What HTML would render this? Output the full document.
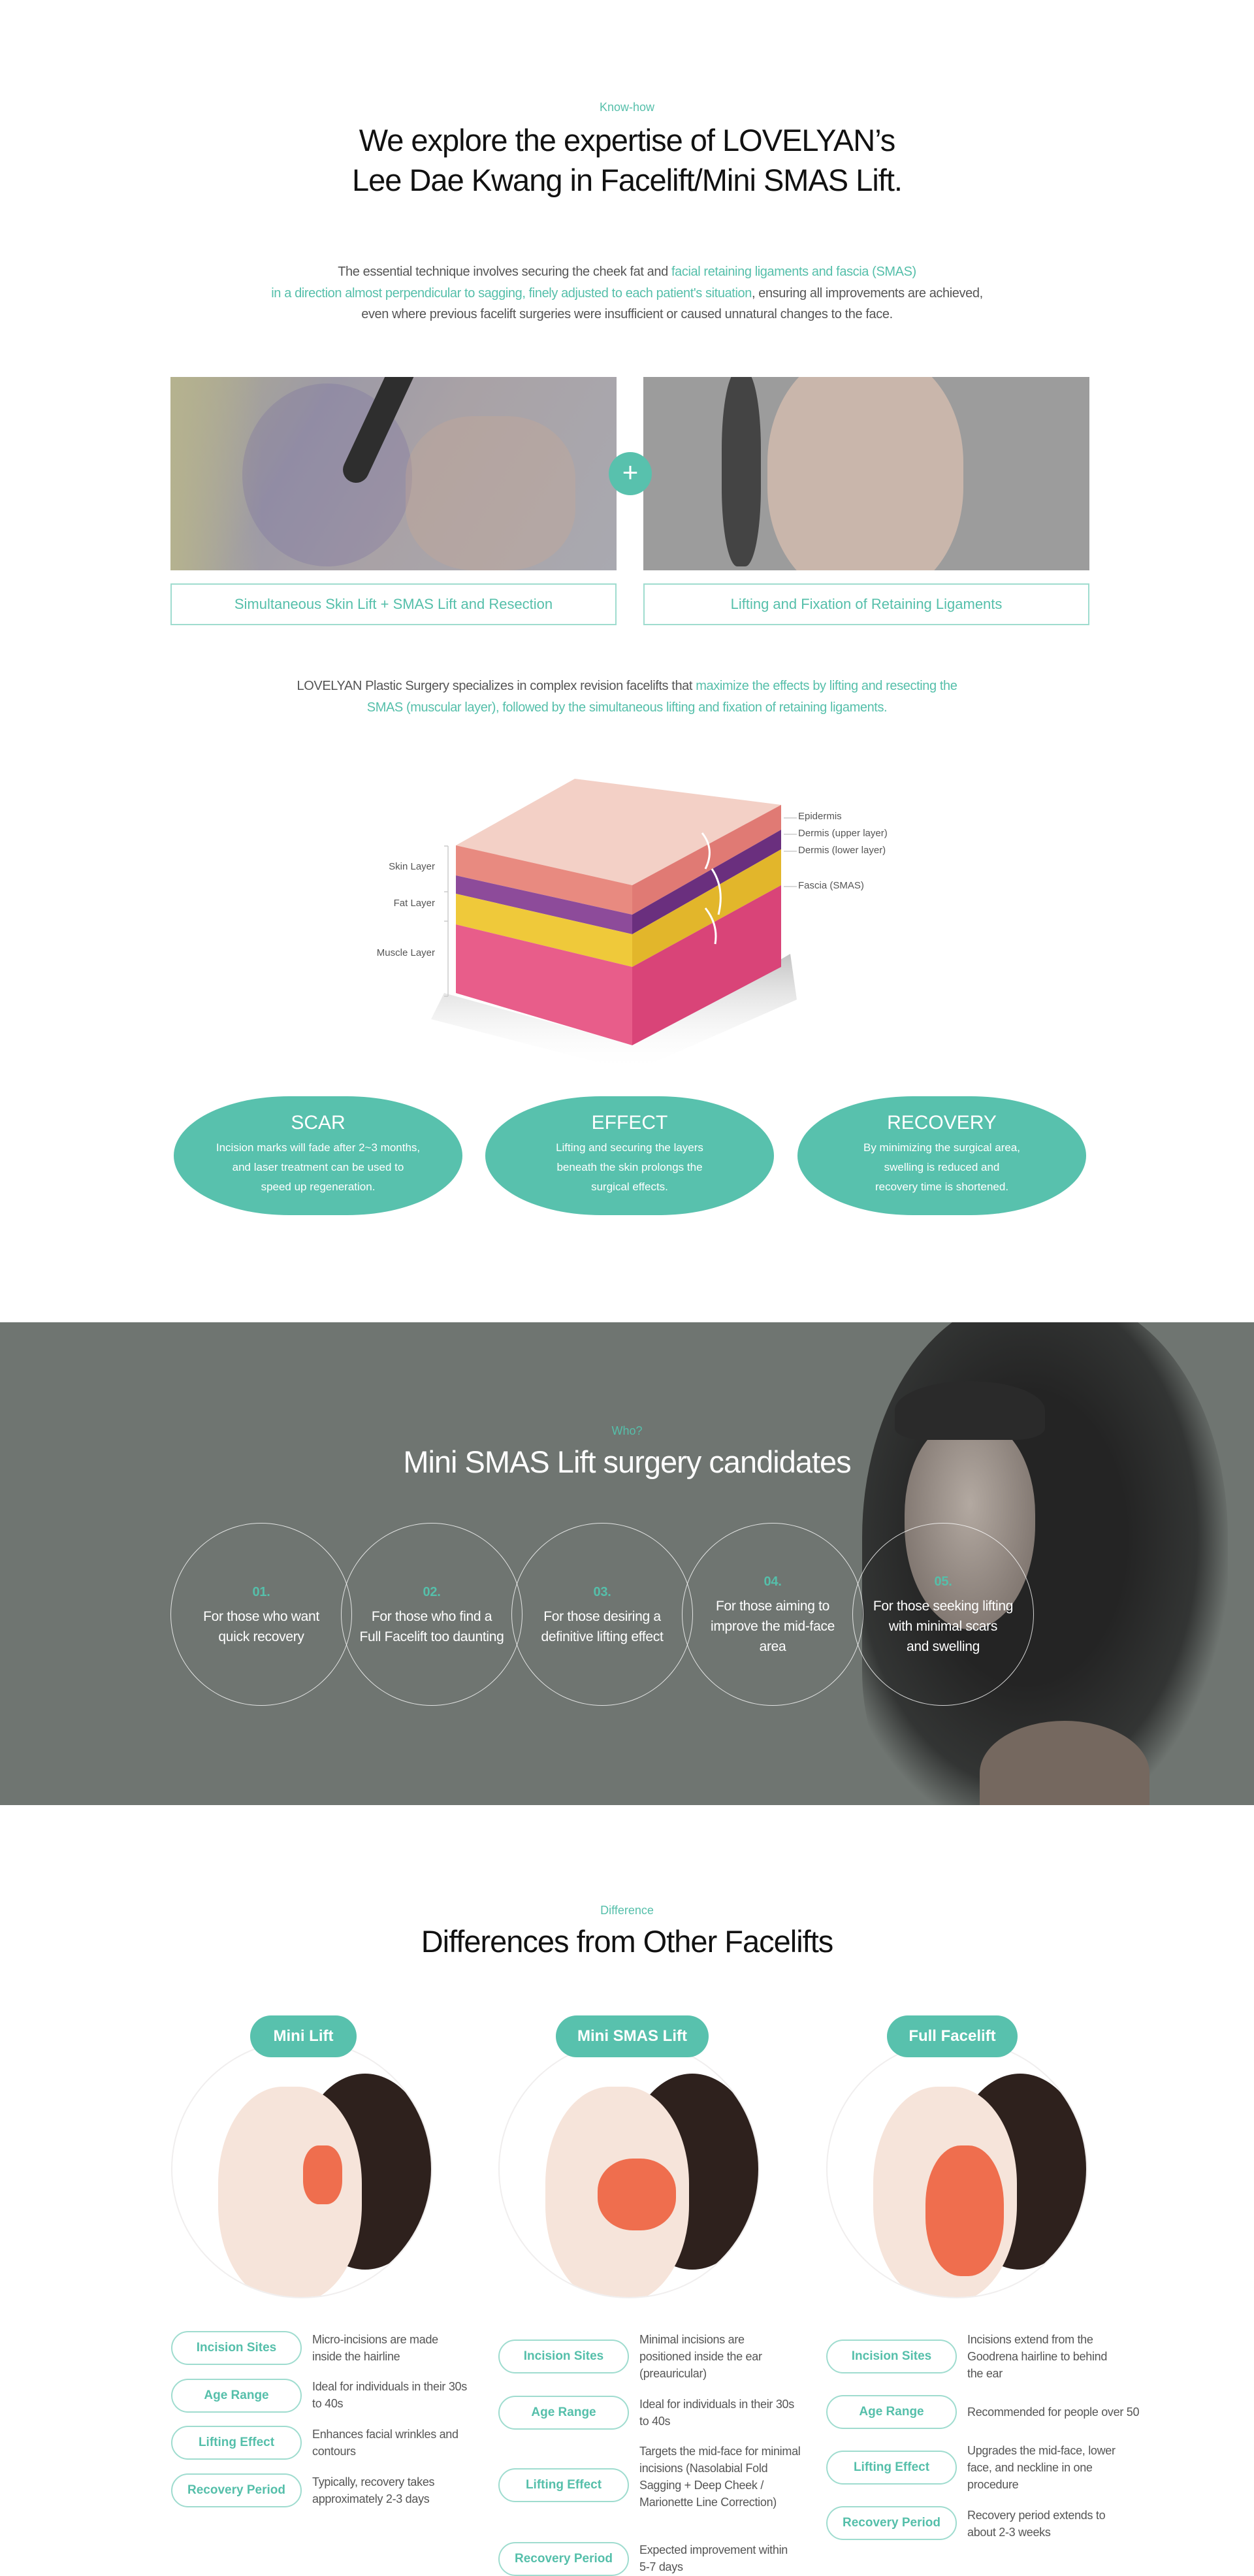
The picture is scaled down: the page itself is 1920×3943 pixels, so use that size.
<!DOCTYPE html>
<html><head><meta charset="utf-8"><style>
*{margin:0;padding:0;box-sizing:border-box}
body{width:1920px;height:3936px;position:relative;background:#fff;font-family:"Liberation Sans",sans-serif;overflow:hidden}
.a{position:absolute}
.c{text-align:center}
.teal{color:#55bfaa}
.sub{font-size:18px;color:#55bfaa;width:1920px;left:0;text-align:center}
.h{font-size:47px;color:#111;width:1920px;left:0;text-align:center;letter-spacing:-1px}
.cap{border:2px solid #9fdccf;color:#55bfaa;font-size:22px;display:flex;align-items:center;justify-content:center}
.pill{background:#58c1ad;border-radius:40%/50%;color:#fff;text-align:center}
.pill b{display:block;font-size:30px;font-weight:normal;margin-top:24px;margin-bottom:6px}
.pill p{font-size:17px;line-height:30px}
.circ{border:1.5px solid rgba(255,255,255,.8);border-radius:50%;width:278px;height:280px;color:#fff;text-align:center;display:flex;flex-direction:column;justify-content:center;font-size:21px;line-height:31px;letter-spacing:-.3px}
.circ i{font-style:normal;color:#55bfaa;font-size:20px;font-weight:bold;margin-bottom:6px}
.lab{border:2px solid #9fdccf;border-radius:26px;width:200px;height:52px;color:#55bfaa;font-size:19px;font-weight:bold;display:flex;align-items:center;justify-content:center}
.txt{font-size:18px;line-height:26px;color:#555;width:240px;letter-spacing:-.3px}
.tag{background:#58c1ad;color:#fff;font-size:24px;font-weight:bold;border-radius:32px;height:64px;display:flex;align-items:center;justify-content:center}
.fc{width:400px;height:396px;border-radius:50%;border:2px solid #f0eeee;overflow:hidden;background:#fff}
</style></head><body>

<div class="a sub" style="top:154px">Know-how</div>
<div class="a h" style="top:184px;line-height:61px">We explore the expertise of LOVELYAN’s<br>Lee Dae Kwang in Facelift/Mini SMAS Lift.</div>
<div class="a c" style="top:400px;left:0;width:1920px;font-size:20px;line-height:32.5px;color:#555;letter-spacing:-.4px">The essential technique involves securing the cheek fat and <span class="teal">facial retaining ligaments and fascia (SMAS)</span><br><span class="teal">in a direction almost perpendicular to sagging, finely adjusted to each patient's situation</span>, ensuring all improvements are achieved,<br>even where previous facelift surgeries were insufficient or caused unnatural changes to the face.</div>

<div class="a" style="left:261px;top:577px;width:683px;height:296px;background:linear-gradient(120deg,#aeab90 0%,#9d9aa6 30%,#a9a2a6 55%,#a9a9b0 100%);overflow:hidden">
 <div class="a" style="left:0;top:0;width:140px;height:296px;background:linear-gradient(90deg,#b5b28f,rgba(160,157,138,0))"></div>
 <div class="a" style="left:110px;top:10px;width:260px;height:280px;border-radius:50%;background:rgba(120,110,160,.3)"></div>
 <div class="a" style="left:300px;top:-40px;width:40px;height:210px;background:#2e2e2e;transform:rotate(25deg);border-radius:20px"></div>
 <div class="a" style="left:360px;top:60px;width:260px;height:236px;border-radius:40%;background:rgba(200,170,150,.35)"></div>
</div>
<div class="a" style="left:985px;top:577px;width:683px;height:296px;background:#9c9c9c;overflow:hidden">
 <div class="a" style="left:190px;top:-40px;width:300px;height:380px;border-radius:45%;background:#c9b6ab"></div>
 <div class="a" style="left:120px;top:-10px;width:60px;height:300px;border-radius:40%;background:#444"></div>
</div>
<div class="a" style="left:932px;top:692px;width:66px;height:66px;border-radius:50%;background:#58c1ad;color:#fff;font-size:42px;line-height:62px;text-align:center">+</div>
<div class="a cap" style="left:261px;top:893px;width:683px;height:64px">Simultaneous Skin Lift + SMAS Lift and Resection</div>
<div class="a cap" style="left:985px;top:893px;width:683px;height:64px">Lifting and Fixation of Retaining Ligaments</div>

<div class="a c" style="top:1034px;left:0;width:1920px;font-size:20px;line-height:32.5px;color:#555;letter-spacing:-.4px">LOVELYAN Plastic Surgery specializes in complex revision facelifts that <span class="teal">maximize the effects by lifting and resecting the</span><br><span class="teal">SMAS (muscular layer), followed by the simultaneous lifting and fixation of retaining ligaments.</span></div>

<svg class="a" style="left:620px;top:1180px" width="620" height="470" viewBox="620 1180 620 470">
 <defs><linearGradient id="sh" x1="0" y1="0" x2="0" y2="1"><stop offset="0" stop-color="#888" stop-opacity=".5"/><stop offset="1" stop-color="#fff" stop-opacity="0"/></linearGradient></defs>
 <polygon points="680,1520 970,1600 1210,1460 1220,1530 970,1640 660,1560" fill="url(#sh)"/>
 <polygon points="698,1294 880,1192 1196,1232 968,1355" fill="#f3d0c6"/>
 <polygon points="698,1294 968,1355 968,1400 698,1340" fill="#e88a80"/>
 <polygon points="968,1355 1196,1232 1196,1270 968,1400" fill="#e07a74"/>
 <polygon points="698,1340 968,1400 968,1430 698,1368" fill="#8d4b9a"/>
 <polygon points="968,1400 1196,1270 1196,1300 968,1430" fill="#6a2f7e"/>
 <polygon points="698,1368 968,1430 968,1480 698,1415" fill="#efc93a"/>
 <polygon points="968,1430 1196,1300 1196,1355 968,1480" fill="#e2b62b"/>
 <polygon points="698,1415 968,1480 968,1600 698,1520" fill="#e85d8a"/>
 <polygon points="968,1480 1196,1355 1196,1480 968,1600" fill="#d94478"/>
 <g stroke="#ccc" stroke-width="1.5" fill="none"><path d="M686,1295 V1525 M680,1295 h6 M680,1365 h6 M680,1410 h6 M680,1525 h6"/>
 <path d="M1200,1252 h20 M1200,1277 h20 M1200,1303 h20 M1200,1357 h20"/></g>
 <g stroke="#fff" stroke-width="3" fill="none"><path d="M1080,1330 q15,-30 -5,-55"/><path d="M1100,1400 q10,-40 -10,-70"/><path d="M1095,1445 q5,-30 -15,-55"/></g>
</svg>
<div class="a" style="left:560px;top:1318px;width:106px;text-align:right;font-size:15px;color:#555">Skin Layer</div>
<div class="a" style="left:560px;top:1374px;width:106px;text-align:right;font-size:15px;color:#555">Fat Layer</div>
<div class="a" style="left:540px;top:1450px;width:126px;text-align:right;font-size:15px;color:#555">Muscle Layer</div>
<div class="a" style="left:1222px;top:1241px;font-size:15px;color:#555">Epidermis</div>
<div class="a" style="left:1222px;top:1267px;font-size:15px;color:#555">Dermis (upper layer)</div>
<div class="a" style="left:1222px;top:1293px;font-size:15px;color:#555">Dermis (lower layer)</div>
<div class="a" style="left:1222px;top:1347px;font-size:15px;color:#555">Fascia (SMAS)</div>

<div class="a pill" style="left:266px;top:1678px;width:442px;height:182px"><b>SCAR</b><p>Incision marks will fade after 2~3 months,<br>and laser treatment can be used to<br>speed up regeneration.</p></div>
<div class="a pill" style="left:743px;top:1678px;width:442px;height:182px"><b>EFFECT</b><p>Lifting and securing the layers<br>beneath the skin prolongs the<br>surgical effects.</p></div>
<div class="a pill" style="left:1221px;top:1678px;width:442px;height:182px"><b>RECOVERY</b><p>By minimizing the surgical area,<br>swelling is reduced and<br>recovery time is shortened.</p></div>

<div class="a" style="left:0;top:2024px;width:1920px;height:739px;background:#6f7571;overflow:hidden">
 <div class="a" style="left:1320px;top:-40px;width:560px;height:820px;border-radius:45% 45% 30% 30%;background:radial-gradient(ellipse at 45% 45%,#242424 35%,#333534 60%,rgba(70,72,71,0) 72%)"></div>
 <div class="a" style="left:1385px;top:150px;width:200px;height:320px;border-radius:45% 45% 50% 50%;background:radial-gradient(ellipse at 50% 40%,#b3a9a1,#7a706a 85%)"></div>
 <div class="a" style="left:1370px;top:90px;width:230px;height:90px;border-radius:50% 50% 20% 20%;background:#2a2a2a"></div>
 <div class="a" style="left:1500px;top:610px;width:260px;height:160px;border-radius:50% 50% 0 0;background:#75685f"></div>
</div>
<div class="a" style="top:2180px;left:0;width:1920px;text-align:center;font-size:18px;color:#55bfaa">Who?</div>
<div class="a" style="top:2210px;left:0;width:1920px;text-align:center;font-size:47px;color:#fff;letter-spacing:-1px">Mini SMAS Lift surgery candidates</div>
<div class="a circ" style="left:261px;top:2331px"><i>01.</i>For those who want<br>quick recovery</div>
<div class="a circ" style="left:522px;top:2331px"><i>02.</i>For those who find a<br>Full Facelift too daunting</div>
<div class="a circ" style="left:783px;top:2331px"><i>03.</i>For those desiring a<br>definitive lifting effect</div>
<div class="a circ" style="left:1044px;top:2331px"><i>04.</i>For those aiming to<br>improve the mid-face<br>area</div>
<div class="a circ" style="left:1305px;top:2331px"><i>05.</i>For those seeking lifting<br>with minimal scars<br>and swelling</div>

<div class="a sub" style="top:2914px">Difference</div>
<div class="a h" style="top:2944px">Differences from Other Facelifts</div>

<div class="a fc" style="left:262px;top:3122px">
 <div class="a" style="left:190px;top:50px;width:210px;height:300px;border-radius:50%;background:#2e211d"></div>
 <div class="a" style="left:70px;top:70px;width:220px;height:330px;border-radius:45%;background:#f6e4da"></div>
 <div class="a" style="left:200px;top:160px;width:60px;height:90px;border-radius:40%;background:#ef6e4e"></div>
</div>
<div class="a fc" style="left:763px;top:3122px">
 <div class="a" style="left:190px;top:50px;width:210px;height:300px;border-radius:50%;background:#2e211d"></div>
 <div class="a" style="left:70px;top:70px;width:220px;height:330px;border-radius:45%;background:#f6e4da"></div>
 <div class="a" style="left:150px;top:180px;width:120px;height:110px;border-radius:45%;background:#ef6e4e"></div>
</div>
<div class="a fc" style="left:1265px;top:3122px">
 <div class="a" style="left:190px;top:50px;width:210px;height:300px;border-radius:50%;background:#2e211d"></div>
 <div class="a" style="left:70px;top:70px;width:220px;height:330px;border-radius:45%;background:#f6e4da"></div>
 <div class="a" style="left:150px;top:160px;width:120px;height:200px;border-radius:45%;background:#ef6e4e"></div>
</div>
<div class="a tag" style="left:383px;top:3085px;width:163px">Mini Lift</div>
<div class="a tag" style="left:851px;top:3085px;width:234px">Mini SMAS Lift</div>
<div class="a tag" style="left:1358px;top:3085px;width:200px">Full Facelift</div>

<div class="a lab" style="left:262px;top:3568px">Incision Sites</div>
<div class="a txt" style="left:478px;top:3568px">Micro-incisions are made inside the hairline</div>
<div class="a lab" style="left:262px;top:3641px">Age Range</div>
<div class="a txt" style="left:478px;top:3640px">Ideal for individuals in their 30s to 40s</div>
<div class="a lab" style="left:262px;top:3713px">Lifting Effect</div>
<div class="a txt" style="left:478px;top:3713px">Enhances facial wrinkles and contours</div>
<div class="a lab" style="left:262px;top:3786px">Recovery Period</div>
<div class="a txt" style="left:478px;top:3786px">Typically, recovery takes approximately 2-3 days</div>

<div class="a lab" style="left:763px;top:3581px">Incision Sites</div>
<div class="a txt" style="left:979px;top:3568px">Minimal incisions are positioned inside the ear (preauricular)</div>
<div class="a lab" style="left:763px;top:3667px">Age Range</div>
<div class="a txt" style="left:979px;top:3667px">Ideal for individuals in their 30s to 40s</div>
<div class="a lab" style="left:763px;top:3778px">Lifting Effect</div>
<div class="a txt" style="left:979px;top:3739px;width:250px">Targets the mid-face for minimal incisions (Nasolabial Fold Sagging + Deep Cheek / Marionette Line Correction)</div>
<div class="a lab" style="left:763px;top:3891px">Recovery Period</div>
<div class="a txt" style="left:979px;top:3890px">Expected improvement within 5-7 days</div>

<div class="a lab" style="left:1265px;top:3581px">Incision Sites</div>
<div class="a txt" style="left:1481px;top:3568px;width:230px">Incisions extend from the Goodrena hairline to behind the ear</div>
<div class="a lab" style="left:1265px;top:3666px">Age Range</div>
<div class="a txt" style="left:1481px;top:3679px;width:300px">Recommended for people over 50</div>
<div class="a lab" style="left:1265px;top:3751px">Lifting Effect</div>
<div class="a txt" style="left:1481px;top:3738px;width:230px">Upgrades the mid-face, lower face, and neckline in one procedure</div>
<div class="a lab" style="left:1265px;top:3836px">Recovery Period</div>
<div class="a txt" style="left:1481px;top:3837px;width:250px">Recovery period extends to about 2-3 weeks</div>
</body></html>
